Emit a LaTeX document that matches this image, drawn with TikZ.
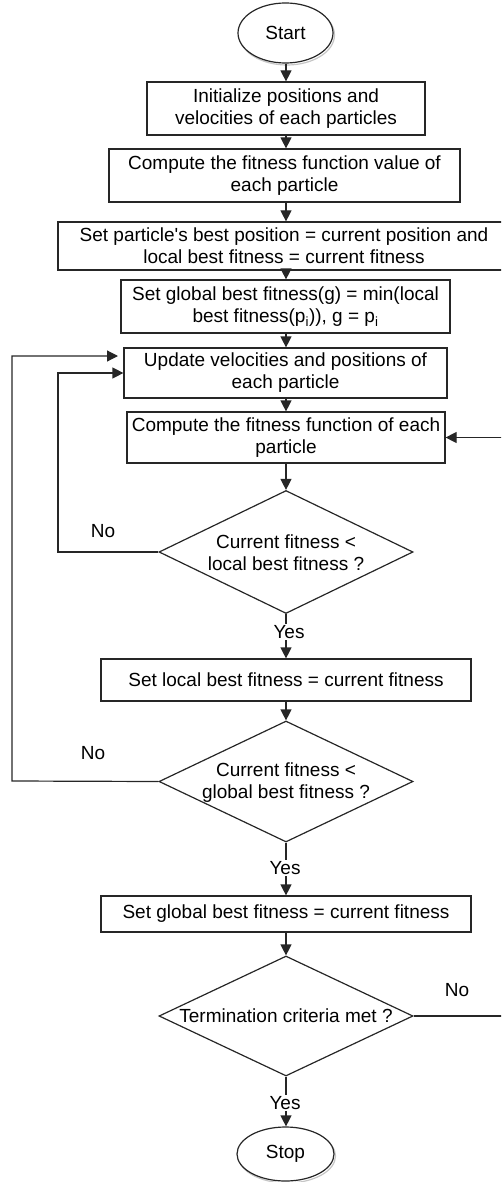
\documentclass[tikz,border=0pt]{standalone}
\usepackage{fontspec}
\setmainfont{Liberation Sans}[Ligatures=TeXOff]
\usetikzlibrary{arrows.meta,shapes.geometric}
\begin{document}
\begin{tikzpicture}[x=1pt,y=-1pt,
  line width=1.2pt,
  every node/.style={font=\fontsize{19}{22}\selectfont},
  box/.style={draw=black!85, rectangle, inner sep=0pt, align=center},
  term/.style={draw=black!85, fill=white, ellipse, inner sep=0pt},
  shadowterm/.style={draw=gray!45, ellipse, inner sep=0pt},
  dia/.style={draw=black!85, diamond, inner sep=0pt},
  arr/.style={draw=black!85, -{Triangle[length=11pt,width=11pt]}},
  lbl/.style={fill=white, inner sep=1pt},
  dtext/.style={align=center, inner sep=0pt}]
\useasboundingbox (0,0) rectangle (501,1182);
\clip (0,0) rectangle (501,1182);

% terminals
\node[shadowterm, minimum width=95pt, minimum height=60pt] (startsh) at (287,35) {};
\node[term, minimum width=95pt, minimum height=60pt] (start) at (285.5,33) {Start};

% boxes
\node[box, minimum width=278pt, minimum height=53pt] (b1) at (286,108.5)
  {Initialize positions and\\velocities of each particles};
\node[box, minimum width=351pt, minimum height=53pt] (b2) at (284.5,175.5)
  {Compute the fitness function value of\\each particle};
\node[box, minimum width=452pt, minimum height=48pt] (b3) at (284,246)
  {Set particle's best position = current position and\\local best fitness = current fitness};
\node[box, minimum width=329pt, minimum height=53pt] (b4) at (285.5,306.5)
  {Set global best fitness(g) = min(local\\best fitness(p\textsubscript{i})), g = p\textsubscript{i}};
\node[box, minimum width=323pt, minimum height=50pt] (b5) at (285.5,373)
  {Update velocities and positions of\\each particle};
\node[box, minimum width=318pt, minimum height=51pt] (b6) at (286,437.5)
  {Compute the fitness function of each\\particle};

% decision 1
\node[dia, minimum width=254pt, minimum height=123pt] (d1) at (286,552) {};
\node[dtext] (d1t) at (286,553) {Current fitness <\\local best fitness ?};

\node[box, minimum width=370pt, minimum height=42pt] (b7) at (286,680)
  {Set local best fitness = current fitness};

% decision 2
\node[dia, minimum width=254pt, minimum height=121pt] (d2) at (286,781.5) {};
\node[dtext] (d2t) at (286,783) {Current fitness <\\global best fitness ?};

\node[box, minimum width=370pt, minimum height=36pt] (b8) at (286,914)
  {Set global best fitness = current fitness};

% decision 3
\node[dia, minimum width=254pt, minimum height=120pt] (d3) at (286,1016) {};
\node[dtext] (d3t) at (286,1016) {Termination criteria met ?};

\node[shadowterm, minimum width=97pt, minimum height=54pt] (stopsh) at (287,1156) {};
\node[term, minimum width=97pt, minimum height=54pt] (stop) at (285.5,1154) {Stop};

% helper coordinates
\coordinate (l1) at (58,552);
\coordinate (l2) at (12,781);
\coordinate (o1) at (118,356);
\coordinate (r1) at (510,1016);

% main flow
\draw[arr] (start.south -| b1.north) -- (b1.north);
\draw[arr] (b1.south) -- (b1.south |- b2.north);
\draw[arr] (b2.south -| b1.south) -- (b1.south |- b3.north);
\draw[arr] (b3.south -| b1.south) -- (b1.south |- b4.north);
\draw[arr] (b4.south -| b1.south) -- (b1.south |- b5.north);
\draw[arr] (b5.south -| b1.south) -- (b1.south |- b6.north);
\draw[arr] (b6.south) -- (d1.north);
\draw[arr] (d1.south) -- (b7.north);
\draw[arr] (b7.south) -- (d2.north);
\draw[arr] (d2.south) -- (b8.north);
\draw[arr] (b8.south) -- (d3.north);
\draw[arr] (d3.south) -- (d3.south |- stop.north);

% loops
\draw[arr] (d1.west) -- (l1) |- (b5.west);
\draw[arr] (d2.west) -- (l2) |- (o1);
\draw[arr] (d3.east) -- (r1) |- (b6.east);

% labels
\node[lbl] (y1) at (289,632) {Yes};
\node[lbl] (y2) at (285,868) {Yes};
\node[lbl] (y3) at (285,1103) {Yes};
\node (n1) at (103,531) {No};
\node (n2) at (93,753) {No};
\node (n3) at (457,990) {No};
\end{tikzpicture}
\end{document}
